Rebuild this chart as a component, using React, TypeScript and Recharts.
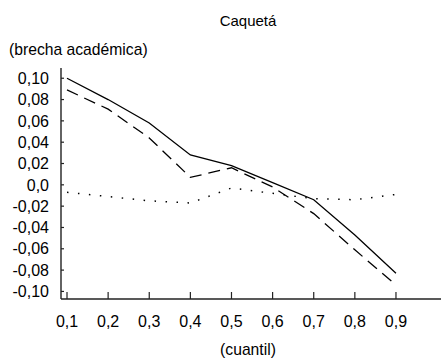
import { LineChart, Line, XAxis, YAxis } from "recharts";

// quantiles on the x axis
const cuantiles = [0.1, 0.2, 0.3, 0.4, 0.5, 0.6, 0.7, 0.8, 0.9];

// academic gap per quantile, one array per series
const brechaContinua = [0.1, 0.08, 0.058, 0.028, 0.018, 0.002, -0.014, -0.047, -0.083];
const brechaDiscontinua = [0.089, 0.071, 0.044, 0.007, 0.016, -0.002, -0.027, -0.061, -0.094];
const brechaPunteada = [-0.007, -0.011, -0.015, -0.017, -0.003, -0.008, -0.013, -0.014, -0.009];

const yTicks = [-0.1, -0.08, -0.06, -0.04, -0.02, 0, 0.02, 0.04, 0.06, 0.08, 0.1];

const FONT = "'Liberation Sans', Arial, sans-serif";

const data = cuantiles.map((q, i) => ({
    q,
    continua: brechaContinua[i],
    discontinua: brechaDiscontinua[i],
    punteada: brechaPunteada[i],
}));

const fmtX = (v: number) => v.toFixed(1).replace(".", ",");
const fmtY = (v: number) => (v === 0 ? "0,0" : v.toFixed(2).replace(".", ","));

const textStyle = {
    position: "absolute" as const,
    fontFamily: FONT,
    lineHeight: 1,
    color: "#000",
    whiteSpace: "nowrap" as const,
};

export default function App() {
    return (
        <div style={{ position: "absolute", left: 0, top: 0, width: 441, height: 362, background: "#fff" }}>
            <div style={{ ...textStyle, fontSize: 15, left: 248, top: 13, transform: "translateX(-50%)" }}>Caquetá</div>
            <div style={{ ...textStyle, fontSize: 15.7, left: 9, top: 42 }}>(brecha académica)</div>
            <div style={{ ...textStyle, fontSize: 15.7, left: 248, top: 342, transform: "translateX(-50%)" }}>
                (cuantil)
            </div>
            <LineChart width={441} height={362} data={data} margin={{ top: 68, right: 0, bottom: 0, left: 0 }}>
                <XAxis
                    dataKey="q"
                    type="number"
                    domain={[0.0854, 1.0095]}
                    ticks={cuantiles}
                    tickFormatter={fmtX}
                    height={63}
                    tickSize={-7}
                    tickMargin={23.5}
                    axisLine={{ stroke: "#222", strokeWidth: 1.4 }}
                    tickLine={{ stroke: "#222", strokeWidth: 1.2 }}
                    tick={{ fontSize: 16, fill: "#000", fontFamily: FONT }}
                    allowDataOverflow
                />
                <YAxis
                    type="number"
                    domain={[-0.1071, 0.1096]}
                    ticks={yTicks}
                    tickFormatter={fmtY}
                    width={61}
                    tickSize={-3}
                    tickMargin={15}
                    axisLine={{ stroke: "#222", strokeWidth: 1.4 }}
                    tickLine={{ stroke: "#222", strokeWidth: 1.2 }}
                    tick={{ fontSize: 16, fill: "#000", fontFamily: FONT }}
                    interval={0}
                    allowDataOverflow
                />
                <Line
                    dataKey="continua"
                    type="linear"
                    stroke="#000"
                    strokeWidth={1.3}
                    dot={false}
                    isAnimationActive={false}
                />
                <Line
                    dataKey="discontinua"
                    type="linear"
                    stroke="#000"
                    strokeWidth={1.3}
                    strokeDasharray="12 7"
                    dot={false}
                    isAnimationActive={false}
                />
                <Line
                    dataKey="punteada"
                    type="linear"
                    stroke="#000"
                    strokeWidth={1.5}
                    strokeDasharray="1.5 9.5"
                    dot={false}
                    isAnimationActive={false}
                />
            </LineChart>
        </div>
    );
}
